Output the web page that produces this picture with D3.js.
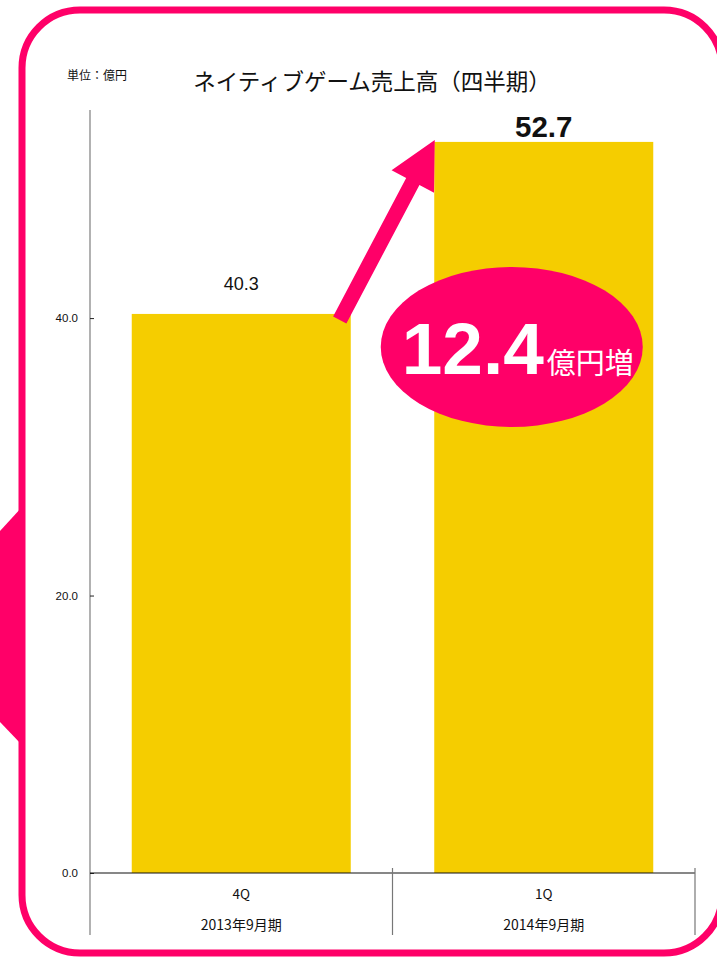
<!DOCTYPE html>
<html><head><meta charset="utf-8">
<script src="https://cdn.jsdelivr.net/npm/d3@7"></script>
<style>
html,body{margin:0;padding:0;background:#fff;overflow:hidden;}
svg{display:block;}
</style></head>
<body>
<script>
const categories = ["4Q", "1Q"];
const periods = ["2013年9月期", "2014年9月期"];
const values = [40.3, 52.7];
const valueLabels = ["40.3", "52.7"];
const yTicks = [0, 20, 40];
const increase = "12.4";
const increaseUnit = "億円増";
const title = "ネイティブゲーム売上高（四半期）";
const unitLabel = "単位：億円";

(function () {
const W = 717, H = 958;
const PINK = "#ff0068", GOLD = "#f5cd00";
const JP = "'Noto Sans CJK JP','Noto Sans',sans-serif";
const LAT = "'Liberation Sans',Arial,sans-serif";

const svg = d3.select("body").append("svg").attr("width", W).attr("height", H);

// frame
svg.append("path")
  .attr("d", "M22,507 L0,531 L0,722 L22,745 Z")
  .attr("fill", PINK);
svg.append("rect").attr("x", 22).attr("y", 10).attr("width", 700).attr("height", 943)
  .attr("rx", 58).attr("ry", 58)
  .attr("fill", "none").attr("stroke", PINK).attr("stroke-width", 7);

const pL = 90, pR = 695, pT = 110, pB = 873;
const y = d3.scaleLinear().domain([0, 55]).range([pB, pT]);
const x = d3.scaleBand().domain(categories).range([pL, pR]).paddingInner(0.276).paddingOuter(0.138);
const xc = d3.scaleBand().domain(categories).range([pL, pR]).padding(0);

// title and unit
svg.append("text").attr("x", 372).attr("y", 90).attr("text-anchor", "middle")
  .attr("font-family", JP).attr("font-size", 22.5).attr("fill", "#111").text(title);
svg.append("text").attr("x", 67).attr("y", 80)
  .attr("font-family", JP).attr("font-size", 12).attr("fill", "#111").text(unitLabel);

// bars
svg.selectAll("rect.bar").data(values).join("rect").attr("class", "bar")
  .attr("x", (d, i) => x(categories[i])).attr("width", x.bandwidth())
  .attr("y", d => y(d)).attr("height", d => y(0) - y(d))
  .attr("fill", GOLD);

// y axis
const yAxis = svg.append("g").attr("transform", `translate(${pL},0)`)
  .call(d3.axisLeft(y).tickValues(yTicks).tickFormat(d3.format(".1f")).tickSize(-4).tickPadding(12));
yAxis.select(".domain").attr("stroke", "#888").attr("stroke-width", 1.3).attr("d", `M0,${pT}V${pB + 62}`);
yAxis.selectAll(".tick line").attr("stroke", "#222");
yAxis.selectAll(".tick text").attr("font-family", LAT).attr("font-size", 11.5).attr("fill", "#111");

// x axis baseline
svg.append("line").attr("x1", pL).attr("x2", pR).attr("y1", y(0)).attr("y2", y(0))
  .attr("stroke", "#111").attr("stroke-width", 1.2);
// category separators
const seps = categories.map(c => xc(c)).concat([xc(categories[categories.length - 1]) + xc.bandwidth()]).slice(1);
svg.selectAll("line.sep").data(seps).join("line").attr("class", "sep")
  .attr("x1", d => d).attr("x2", d => d).attr("y1", y(0) - 5).attr("y2", y(0) + 62)
  .attr("stroke", "#777").attr("stroke-width", 1.2);
svg.selectAll("text.cat").data(categories).join("text").attr("class", "cat")
  .attr("x", d => xc(d) + xc.bandwidth() / 2).attr("y", y(0) + 26).attr("text-anchor", "middle")
  .attr("font-family", JP).attr("font-size", 13.5).attr("fill", "#111").text(d => d);
svg.selectAll("text.per").data(periods).join("text").attr("class", "per")
  .attr("x", (d, i) => xc(categories[i]) + xc.bandwidth() / 2).attr("y", y(0) + 57).attr("text-anchor", "middle")
  .attr("font-family", JP).attr("font-size", 14).attr("fill", "#111").text(d => d);

// value labels
svg.selectAll("text.val").data(values).join("text").attr("class", "val")
  .attr("x", (d, i) => x(categories[i]) + x.bandwidth() / 2)
  .attr("y", (d, i) => y(d) - (i === 1 ? 5 : 24))
  .attr("text-anchor", "middle").attr("font-family", LAT)
  .attr("font-size", (d, i) => i === 1 ? 29.5 : 18)
  .attr("font-weight", (d, i) => i === 1 ? "bold" : "normal")
  .attr("fill", "#111").text((d, i) => valueLabels[i]);

// arrow
const sx = x(categories[0]) + x.bandwidth() - 11, sy = y(values[0]) + 6;
const tx = x(categories[1]) + 0.5, ty = y(values[1]) - 2;
const dx = tx - sx, dy = ty - sy, L = Math.hypot(dx, dy);
const ux = dx / L, uy = dy / L, px = -uy, py = ux;
const hw = 7.5, headL = 47, headW = 24;
const bx = tx - ux * headL, by = ty - uy * headL;
const pts = [
  [sx + px * hw, sy + py * hw], [bx + px * hw, by + py * hw], [bx + px * headW, by + py * headW],
  [tx, ty], [bx - px * headW, by - py * headW], [bx - px * hw, by - py * hw], [sx - px * hw, sy - py * hw]
];
svg.append("path").attr("d", d3.line()(pts) + "Z").attr("fill", PINK);

// ellipse annotation
const ecx = x(categories[1]) + x.bandwidth() / 2 - 32, ecy = y(values[0]) + 33;
svg.append("ellipse").attr("cx", ecx).attr("cy", ecy).attr("rx", 131).attr("ry", 80).attr("fill", PINK);
const t = svg.append("text").attr("x", ecx - 110).attr("y", ecy + 27).attr("fill", "#fff");
t.append("tspan").attr("font-family", LAT).attr("font-weight", "bold").attr("font-size", 73).text(increase);
t.append("tspan").attr("font-family", JP).attr("font-size", 29).attr("dx", 3).text(increaseUnit);
})();
</script>
</body></html>
